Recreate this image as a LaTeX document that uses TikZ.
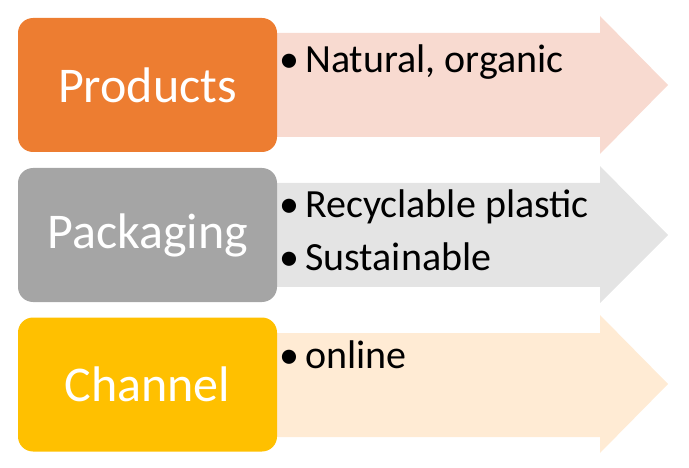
\documentclass[tikz,border=0pt]{standalone}
\usepackage{fontspec}
\setmainfont{Carlito}
\definecolor{boxorange}{HTML}{ED7D31}
\definecolor{boxgray}{HTML}{A5A5A5}
\definecolor{boxyellow}{HTML}{FFC000}
\definecolor{arrowpink}{RGB}{248,218,208}
\definecolor{arrowgray}{RGB}{228,228,228}
\definecolor{arrowcream}{RGB}{255,235,212}
\begin{document}
\begin{tikzpicture}[x=1pt,y=-1pt,
    box/.style={rounded corners=15pt, minimum width=259pt, minimum height=134pt,
      text=white, font=\fontsize{50}{60}\selectfont},
    point/.style={anchor=base west, inner sep=0pt, font=\fontsize{40}{48}\selectfont}]
  \useasboundingbox (0,0) rectangle (689,468);
  \fill[arrowpink] (270,33) -- (600,33) -- (600,16) -- (668,85) -- (600,154) -- (600,137) -- (270,137) -- cycle;
  \fill[arrowgray] (270,183) -- (600,183) -- (600,166) -- (668,235) -- (600,303) -- (600,287) -- (270,287) -- cycle;
  \fill[arrowcream] (270,333) -- (600,333) -- (600,315) -- (668,384) -- (600,453) -- (600,437) -- (270,437) -- cycle;
  \node[box, fill=boxorange] (products) at (147.5,85) {Products};
  \node[box, fill=boxgray] (packaging) at (147.5,235) {Packaging};
  \node[box, fill=boxyellow] (channel) at (147.5,384.5) {Channel};
  \node[point] (natural) at (279,73) {\makebox[26pt][l]{\textbullet}Natural, organic};
  \node[point] (recycle) at (279,218) {\makebox[26pt][l]{\textbullet}Recyclable plastic};
  \node[point] (sustain) at (279,271) {\makebox[26pt][l]{\textbullet}Sustainable};
  \node[point] (online) at (279,368) {\makebox[26pt][l]{\textbullet}online};
\end{tikzpicture}
\end{document}
